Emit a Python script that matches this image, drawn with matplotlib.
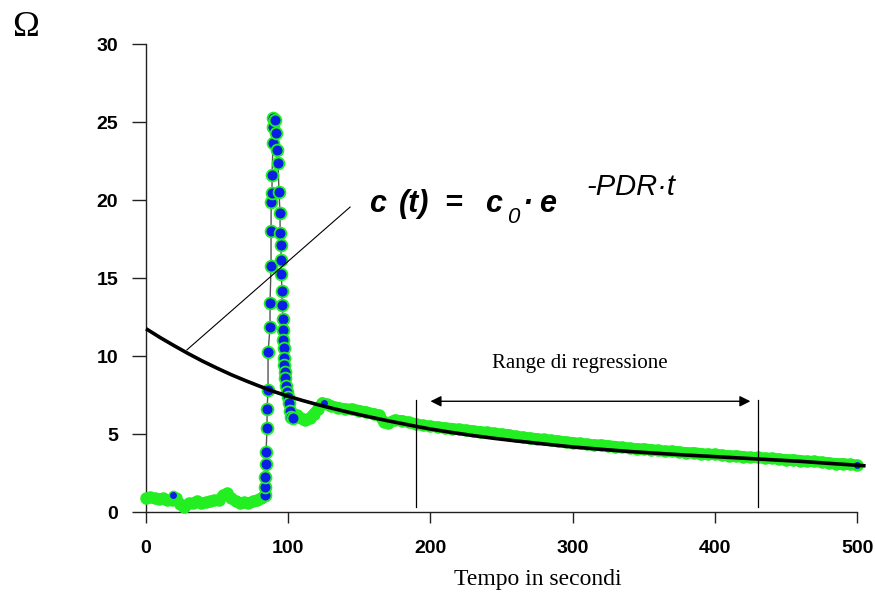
import numpy as np
import matplotlib
matplotlib.use('Agg')
import matplotlib.pyplot as plt

# baseline before the bolus
base_t = [0, 3, 6, 9, 12, 15, 18, 21, 24, 27, 30, 33, 36, 39, 42, 45, 48, 51,
          54, 57, 60, 63, 66, 69, 72, 75, 78, 81, 83]
base_v = [0.9, 0.95, 0.9, 0.85, 0.9, 0.8, 0.75, 0.9, 0.5, 0.35, 0.55, 0.6, 0.7,
          0.6, 0.65, 0.7, 0.75, 0.8, 1.1, 1.2, 0.9, 0.7, 0.6, 0.65, 0.6, 0.7,
          0.8, 0.9, 1.0]

# the spike (blue points)
spike_t = [83.7, 83.7, 83.8, 84.4, 84.4, 85.1, 85.1, 85.8, 85.8, 87.2, 87.2,
           87.9, 87.9, 88.0, 88.6, 88.6, 89.3, 89.3, 89.4,
           90.7, 91.4, 92.1, 92.8, 93.5, 94.2, 94.3, 94.9, 95.0, 95.1, 95.6,
           95.7, 96.3, 96.3, 96.4, 97.0, 97.0, 97.1, 97.7, 97.7, 98.5, 99.2,
           99.9, 100.6, 101.3, 102.0, 103.4]
spike_v = [1.1, 1.6, 2.25, 3.1, 3.85, 5.4, 6.6, 7.8, 10.25, 11.85, 13.4,
           15.8, 18.0, 19.9, 20.45, 21.6, 23.65, 24.7, 25.25,
           25.1, 24.3, 23.2, 22.4, 20.5, 19.2, 17.9, 17.1, 16.15, 15.25, 14.2,
           13.3, 12.4, 11.7, 11.0, 10.5, 9.9, 9.4, 9.0, 8.6, 8.1, 7.7,
           7.4, 7.0, 6.5, 6.1, 6.0]

# wash-out tail
tail_t = [106, 109, 112, 115, 118, 121, 124, 127, 130, 135, 140, 145, 150, 155,
          160, 164, 167, 170, 175, 180, 185, 190, 195, 200,
          205, 210, 215, 220, 225, 230, 235, 240, 245, 250, 255, 260, 265, 270,
          275, 280, 285, 290, 295, 300, 305, 310, 315, 320, 325, 330, 335, 340,
          345, 350, 355, 360, 365, 370, 375, 380, 385, 390, 395, 400, 405, 410,
          415, 420, 425, 430, 435, 440, 445, 450, 455, 460, 465, 470, 475, 480,
          485, 490, 495, 500]
tail_v = [6.2, 6.0, 5.9, 6.0, 6.3, 6.6, 7.0, 6.9, 6.8, 6.7, 6.6, 6.6, 6.5, 6.4,
          6.3, 6.2, 5.8, 5.7, 5.9, 5.85, 5.75, 5.65, 5.55, 5.5,
          5.45, 5.4, 5.35, 5.3, 5.25, 5.2, 5.15, 5.1, 5.05, 5.0, 4.95, 4.85, 4.8,
          4.75, 4.7, 4.65, 4.6, 4.55, 4.5, 4.45, 4.4, 4.35, 4.3, 4.3, 4.25, 4.2,
          4.15, 4.1, 4.05, 4.05, 4.0, 3.95, 3.9, 3.9, 3.85, 3.8, 3.8, 3.75, 3.7,
          3.7, 3.65, 3.6, 3.6, 3.55, 3.5, 3.5, 3.45, 3.45, 3.4, 3.35, 3.35, 3.3,
          3.25, 3.25, 3.2, 3.15, 3.1, 3.1, 3.05, 3.0]

# odd blue points sitting in the green
extra_t = [19, 125, 500]
extra_v = [1.1, 7.0, 3.0]

# fitted exponential curve
fit_t = [0, 10, 20, 30, 40, 50, 60, 70, 80, 90, 100, 110, 120, 130, 140, 150,
         160, 170, 180, 190, 200, 215, 230, 245, 260, 280, 300, 320, 340, 360,
         380, 400, 420, 440, 460, 480, 500, 506]
fit_c = [11.75, 11.18, 10.65, 10.14, 9.66, 9.22, 8.8, 8.42, 8.06, 7.72, 7.42,
         7.15, 6.9, 6.67, 6.45, 6.24, 6.04, 5.85, 5.67, 5.49, 5.32, 5.1, 4.9,
         4.72, 4.56, 4.36, 4.17, 4.02, 3.88, 3.76, 3.65, 3.55, 3.45, 3.35, 3.25,
         3.12, 3.0, 2.96]

reg_start, reg_end = 190, 430
xticks = [0, 100, 200, 300, 400, 500]
yticks = [0, 5, 10, 15, 20, 25, 30]

green = '#22ee22'
blue = '#0a1ee8'
sans = 'Liberation Sans'
serif = 'Liberation Serif'

fig = plt.figure(figsize=(8.75, 5.96), dpi=100)
ax = fig.add_axes([0.1669, 0.1409, 0.8126, 0.7852])

all_t = base_t + spike_t + tail_t
all_v = base_v + spike_v + tail_v
ax.plot(all_t, all_v, color='#555555', lw=1, zorder=2, clip_on=False)

ax.plot(base_t, base_v, color=green, lw=7, marker='o', ms=8, mfc=green, mec=green,
        solid_capstyle='round', zorder=3, clip_on=False)
ax.plot(tail_t, tail_v, color=green, lw=8, marker='o', ms=8, mfc=green, mec=green,
        solid_capstyle='round', zorder=3, clip_on=False)
ax.plot(spike_t, spike_v, ls='none', marker='o', ms=8.5, mfc=blue, mec=green,
        mew=1.3, zorder=4, clip_on=False)
ax.plot(extra_t, extra_v, ls='none', marker='o', ms=6, mfc=blue, mec=green,
        mew=1, zorder=4, clip_on=False)

ax.plot(fit_t, fit_c, color='black', lw=2.6, zorder=5, clip_on=False,
        solid_capstyle='butt')

# regression range markers
ax.plot([reg_start, reg_start], [0.3, 7.2], color='black', lw=0.9, zorder=6)
ax.plot([reg_end, reg_end], [0.3, 7.2], color='black', lw=0.9, zorder=6)
ax.annotate('', xy=(200, 7.1), xytext=(425, 7.1),
            arrowprops=dict(arrowstyle='<|-|>', color='black', lw=1,
                            mutation_scale=16, shrinkA=0, shrinkB=0), zorder=6)
ax.text(305, 9.55, 'Range di regressione', family=serif, fontsize=15,
        ha='center', va='center')

# formula with leader line
ax.plot([28.8, 143.5], [10.4, 19.55], color='black', lw=0.8, zorder=6)
fkw = dict(family=sans, fontweight='bold', style='italic', fontsize=22,
           ha='left', va='baseline')
ax.text(157.0, 19.23, 'c', **fkw)
ax.text(177.5, 19.23, '(t)', **fkw)
ax.text(210.0, 19.23, '=', **fkw)
ax.text(238.6, 19.23, 'c', **fkw)
ax.text(253.9, 18.55, '0', family=sans, style='italic', fontsize=16,
        ha='left', va='baseline')
ax.text(264.6, 19.23, '\u00b7', **fkw)
ax.text(276.6, 19.23, 'e', **fkw)
ax.text(309.5, 20.3, '-PDR\u00b7t', family=sans, style='italic', fontsize=21,
        ha='left', va='baseline')

ax.set_xlim(0, 500)
ax.set_ylim(0, 30)
ax.set_xticks(xticks)
ax.set_yticks(yticks)
for s in ['top', 'right']:
    ax.spines[s].set_visible(False)
for s in ['left', 'bottom']:
    ax.spines[s].set_linewidth(1)
    ax.spines[s].set_color('#222222')
ax.tick_params(axis='y', direction='out', length=10, width=1, pad=10,
               color='#222222')
ax.tick_params(axis='x', direction='out', length=8, width=1, pad=12,
               color='#222222')
for lab in ax.get_xticklabels() + ax.get_yticklabels():
    lab.set_family(sans)
    lab.set_fontweight('bold')
    lab.set_fontsize(14)

fig.text(538 / 875, 1 - 580 / 596, 'Tempo in secondi', family=serif,
         fontsize=17, ha='center', va='center')
fig.text(26 / 875, 1 - 27 / 596, '\u03a9', family=serif, fontsize=26,
         ha='center', va='center')

plt.savefig('out.png', dpi=100)
